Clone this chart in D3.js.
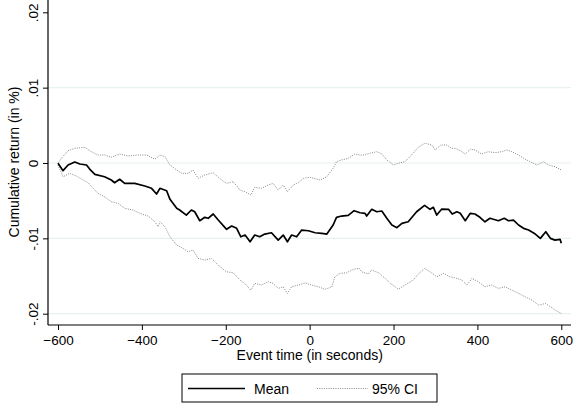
<!DOCTYPE html>
<html>
<head>
<meta charset="utf-8">
<script src="https://cdn.jsdelivr.net/npm/d3@7"></script>
<style>
  body { margin: 0; background: #fff; }
  svg { display: block; }
  text { font-family: "Liberation Sans", Arial, Helvetica, sans-serif; fill: #000; }
</style>
</head>
<body>
<svg id="chart" width="575" height="404"></svg>
<script>
// tick values / labels (stata style, no leading zero)
const yTicks = [-0.02, -0.01, 0, 0.01, 0.02]
const yTickLabels = ["-.02", "-.01", "0", ".01", ".02"]
const xTicks = [-600, -400, -200, 0, 200, 400, 600]

// mean cumulative return
const meanTime = [-600,-588,-576,-560,-548,-532,-524,-512,-489,-473,-465,-453,-441,-417,-393,-377,-365,-357,-341,-333,-317,-310,-294,-282,-274,-262,-250,-242,-230,-218,-198,-186,-174,-164,-154,-142,-131,-119,-107,-91,-75,-63,-53,-43,-31,-19,-3,13,29,41,56,64,76,92,106,120,132,136,148,160,172,184,196,208,220,235,255,274,287,295,303,315,331,340,351,359,371,383,394,406,418,430,450,464,474,486,498,510,522,538,550,563,574,585,597,600]
const meanValue = [-0.00004,-0.00102,-0.00027,0.00013,-0.00013,-0.00027,-0.00084,-0.0015,-0.00182,-0.00226,-0.00262,-0.00216,-0.0027,-0.0027,-0.00305,-0.00336,-0.00412,-0.00336,-0.00368,-0.00482,-0.00602,-0.00624,-0.00691,-0.00624,-0.00647,-0.00766,-0.00721,-0.00734,-0.00677,-0.00757,-0.0088,-0.00837,-0.00867,-0.00979,-0.00956,-0.01045,-0.00956,-0.00979,-0.00943,-0.00926,-0.01023,-0.00956,-0.01045,-0.00956,-0.00979,-0.0089,-0.00899,-0.00926,-0.00934,-0.00943,-0.00823,-0.00721,-0.00704,-0.00695,-0.00633,-0.0066,-0.00668,-0.00704,-0.00615,-0.00647,-0.00637,-0.00734,-0.00823,-0.00859,-0.00801,-0.0078,-0.00647,-0.00562,-0.00615,-0.00588,-0.00691,-0.00611,-0.00615,-0.00677,-0.00647,-0.00668,-0.00766,-0.00668,-0.00677,-0.00721,-0.0078,-0.00734,-0.00766,-0.00734,-0.00766,-0.00757,-0.00823,-0.00867,-0.0089,-0.00943,-0.01,-0.00912,-0.01,-0.01023,-0.01013,-0.01066]

// upper 95% bound
const upperTime = [-600,-592,-576,-560,-536,-520,-505,-489,-473,-453,-433,-409,-389,-369,-357,-345,-333,-317,-305,-290,-278,-266,-250,-230,-210,-198,-182,-166,-154,-140,-131,-115,-99,-87,-75,-63,-53,-39,-27,-15,1,25,41,56,64,76,92,108,120,128,144,160,172,184,200,211,227,243,259,275,291,299,313,327,339,347,359,371,383,394,410,426,442,458,470,482,498,510,526,542,558,569,585,600]
const upperValue = [-0.00004,0.00062,0.00163,0.00195,0.00208,0.0015,0.00106,0.00106,0.00076,0.0012,0.00093,0.00106,0.00106,0.0005,0.00106,0.00084,-0.00027,-0.00093,-0.00137,-0.00137,-0.00093,-0.00203,-0.00159,-0.00129,-0.00226,-0.0027,-0.00248,-0.00359,-0.00381,-0.00425,-0.00323,-0.00336,-0.00292,-0.0027,-0.00359,-0.00292,-0.00381,-0.00292,-0.00262,-0.00203,-0.0019,-0.00226,-0.00182,-0.0007,0.00017,0.0004,0.00062,0.0012,0.00106,0.00106,0.00129,0.0015,0.0012,0.0004,-0.00027,-0.00004,0.00017,0.00106,0.00208,0.00262,0.00239,0.00173,0.00239,0.00239,0.00195,0.00195,0.00163,0.0012,0.00182,0.00173,0.0012,0.0015,0.00137,0.0015,0.00173,0.0015,0.00106,0.00062,0.00017,-0.00027,0.00017,-0.00027,-0.00049,-0.00093]

// lower 95% bound
const lowerTime = [-600,-588,-572,-556,-540,-528,-516,-505,-489,-473,-457,-441,-421,-405,-385,-369,-361,-357,-345,-333,-317,-302,-290,-278,-266,-250,-234,-214,-198,-182,-166,-153,-140,-131,-115,-99,-87,-75,-63,-53,-43,-27,-11,5,21,37,53,60,72,88,104,118,124,140,148,164,180,192,204,211,227,247,259,274,287,303,319,335,351,363,375,387,402,418,434,450,466,482,498,514,530,546,562,574,585,600]
const lowerValue = [-0.00027,-0.00182,-0.00137,-0.00173,-0.00226,-0.00262,-0.00336,-0.00402,-0.00448,-0.00514,-0.00535,-0.00602,-0.00624,-0.00668,-0.00704,-0.0078,-0.00846,-0.0078,-0.00846,-0.00979,-0.01089,-0.01133,-0.01178,-0.01155,-0.01266,-0.01288,-0.01266,-0.01377,-0.01444,-0.01457,-0.01554,-0.01607,-0.01687,-0.01598,-0.0162,-0.01576,-0.01598,-0.01664,-0.01643,-0.0173,-0.01643,-0.0162,-0.0159,-0.0162,-0.01643,-0.01677,-0.01643,-0.0151,-0.01465,-0.01457,-0.01412,-0.01398,-0.01444,-0.01474,-0.01421,-0.01457,-0.01531,-0.01598,-0.01643,-0.01677,-0.0162,-0.01554,-0.01474,-0.01398,-0.01444,-0.0151,-0.01465,-0.0151,-0.01531,-0.01554,-0.0162,-0.01531,-0.01576,-0.01643,-0.0162,-0.01664,-0.01643,-0.01687,-0.0173,-0.01776,-0.01819,-0.01886,-0.01864,-0.01908,-0.01952,-0.01996]

const legendLabels = ["Mean", "95% CI"]

const svg = d3.select('#chart')

const x = d3.scaleLinear().domain([-600, 600]).range([58, 561.3])
const y = d3.scaleLinear().domain([-0.02, 0.02]).range([313.7, 12.3])
const plotLeft = 48, plotRight = 571, plotTop = 0, plotBottom = 325

// gridlines (not on the top one)
svg.append('g')
  .selectAll('line')
  .data(yTicks.filter(d => d < 0.02))
  .join('line')
    .attr('x1', plotLeft).attr('x2', plotRight)
    .attr('y1', d => y(d)).attr('y2', d => y(d))
    .attr('stroke', '#e8f0f1')
    .attr('stroke-width', 1.2)

// y axis
const yAxis = svg.append('g')
  .attr('transform', `translate(${plotLeft},0)`)
  .call(d3.axisLeft(y).tickValues(yTicks).tickSize(5)
    .tickFormat((d, i) => yTickLabels[i]))
yAxis.select('.domain').remove()
yAxis.selectAll('.tick line').attr('stroke', '#000')
yAxis.selectAll('.tick text')
  .attr('x', null).attr('dy', null)
  .attr('transform', 'translate(-10,0) rotate(-90)')
  .attr('text-anchor', 'middle')
  .style('font-size', '13.5px')
  .style('font-family', '"Liberation Sans", Arial, sans-serif')

// x axis
const xAxis = svg.append('g')
  .attr('transform', `translate(0,${plotBottom})`)
  .call(d3.axisBottom(x).tickValues(xTicks).tickSize(5).tickPadding(5))
xAxis.select('.domain').remove()
xAxis.selectAll('.tick line').attr('stroke', '#000')
xAxis.selectAll('.tick text')
  .style('font-size', '13.5px')
  .style('font-family', '"Liberation Sans", Arial, sans-serif')

// axis lines
svg.append('line')
  .attr('x1', plotLeft).attr('x2', plotLeft)
  .attr('y1', plotTop).attr('y2', plotBottom)
  .attr('stroke', '#000').attr('stroke-width', 1.2)
svg.append('line')
  .attr('x1', plotLeft).attr('x2', plotRight)
  .attr('y1', plotBottom).attr('y2', plotBottom)
  .attr('stroke', '#000').attr('stroke-width', 1.2)

// series
const line = d3.line().x(d => x(d[0])).y(d => y(d[1]))
const zip = (a, b) => a.map((t, i) => [t, b[i]])

svg.append('path')
  .datum(zip(upperTime, upperValue))
  .attr('d', line)
  .attr('fill', 'none')
  .attr('stroke', '#777')
  .attr('stroke-width', 0.9)
  .attr('stroke-dasharray', '1,1.3')
svg.append('path')
  .datum(zip(lowerTime, lowerValue))
  .attr('d', line)
  .attr('fill', 'none')
  .attr('stroke', '#777')
  .attr('stroke-width', 0.9)
  .attr('stroke-dasharray', '1,1.3')
svg.append('path')
  .datum(zip(meanTime, meanValue))
  .attr('d', line)
  .attr('fill', 'none')
  .attr('stroke', '#000')
  .attr('stroke-width', 1.7)
  .attr('stroke-linejoin', 'round')

// axis titles
svg.append('text')
  .attr('transform', 'translate(19,162) rotate(-90)')
  .attr('text-anchor', 'middle')
  .style('font-size', '14px')
  .text('Cumulative return (in %)')
svg.append('text')
  .attr('x', 309.7).attr('y', 360)
  .attr('text-anchor', 'middle')
  .style('font-size', '14px')
  .text('Event time (in seconds)')

// legend
const legend = svg.append('g')
legend.append('rect')
  .attr('x', 182).attr('y', 374).attr('width', 255).attr('height', 28)
  .attr('fill', '#fff').attr('stroke', '#000').attr('stroke-width', 1)
legend.append('line')
  .attr('x1', 188).attr('x2', 245).attr('y1', 388.5).attr('y2', 388.5)
  .attr('stroke', '#000').attr('stroke-width', 1.3)
legend.append('line')
  .attr('x1', 317).attr('x2', 368).attr('y1', 388.5).attr('y2', 388.5)
  .attr('stroke', '#777').attr('stroke-width', 0.9)
  .attr('stroke-dasharray', '1,1.3')
legend.selectAll('text.lab')
  .data(legendLabels)
  .join('text')
    .attr('class', 'lab')
    .attr('x', (d, i) => i === 0 ? 254 : 372)
    .attr('y', 394)
    .style('font-size', '14px')
    .text(d => d)
</script>
</body>
</html>
